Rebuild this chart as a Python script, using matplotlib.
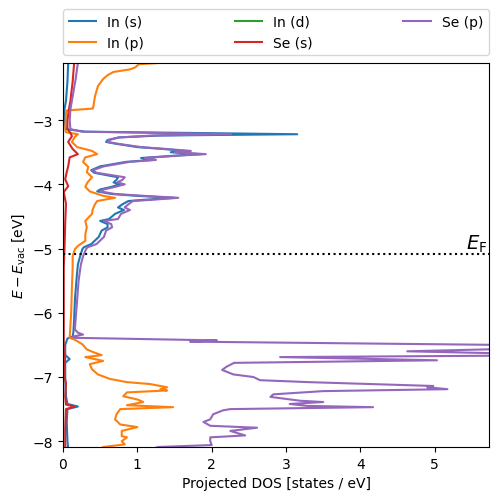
import matplotlib
matplotlib.use("Agg")
import matplotlib.pyplot as plt

# ---------------- data (energy in eV, projected DOS in states/eV) ----------------
in_s_E = [-2.00, -2.11, -2.40, -2.70, -2.83, -3.00, -3.14, -3.18, -3.22, -3.24, -3.27, -3.31, -3.34,
          -3.37, -3.42, -3.45, -3.48, -3.50, -3.53, -3.55, -3.59, -3.62, -3.65, -3.72, -3.78, -3.82,
          -3.86, -3.89, -3.93, -3.97, -4.00, -4.04, -4.08, -4.11, -4.15, -4.18, -4.21, -4.24, -4.26,
          -4.31, -4.36, -4.40, -4.46, -4.54, -4.57, -4.62, -4.67, -4.72, -4.82, -4.93, -4.98, -5.01,
          -5.12, -5.25, -5.50, -5.80, -6.10, -6.30, -6.37, -6.40, -6.50, -6.66, -6.72, -6.78, -7.00,
          -7.30, -7.42, -7.46, -7.50, -7.70, -8.00, -8.12]
in_s_dos = [0.08, 0.07, 0.06, 0.04, 0.02, 0.02, 0.04, 0.30, 3.15, 1.30, 0.75, 0.60, 0.58,
            0.72, 1.00, 1.35, 1.65, 1.45, 1.85, 1.55, 1.05, 1.20, 0.85, 0.50, 0.38, 0.42,
            0.60, 0.74, 0.72, 0.68, 0.76, 0.65, 0.50, 0.46, 0.65, 1.00, 1.50, 1.10, 0.88,
            0.80, 0.74, 0.82, 0.70, 0.62, 0.50, 0.60, 0.60, 0.52, 0.48, 0.38, 0.28, 0.26,
            0.23, 0.20, 0.18, 0.16, 0.15, 0.14, 0.13, 0.06, 0.03, 0.03, 0.09, 0.03, 0.03,
            0.04, 0.06, 0.20, 0.06, 0.05, 0.06, 0.07]

in_p_E = [-2.05, -2.10, -2.13, -2.18, -2.21, -2.25, -2.30, -2.36, -2.47, -2.63, -2.78, -2.82, -2.85,
          -2.90, -3.14, -3.19, -3.22, -3.26, -3.34, -3.42, -3.48, -3.53, -3.58, -3.65, -3.73, -3.81,
          -3.89, -3.97, -4.04, -4.11, -4.18, -4.21, -4.26, -4.31, -4.39, -4.46, -4.57, -4.67, -4.78,
          -4.88, -4.96, -5.01, -5.12, -5.30, -5.60, -6.00, -6.39, -6.42, -6.49, -6.57, -6.61, -6.66,
          -6.69, -6.75, -6.80, -6.88, -6.96, -7.03, -7.08, -7.11, -7.16, -7.19, -7.21, -7.24, -7.30,
          -7.35, -7.39, -7.44, -7.47, -7.50, -7.58, -7.66, -7.74, -7.78, -7.84, -7.92, -7.94, -8.00,
          -8.05, -8.09, -8.12]
in_p_dos = [1.60, 1.43, 1.02, 0.97, 0.90, 0.68, 0.60, 0.54, 0.47, 0.43, 0.41, 0.40, 0.05,
            0.04, 0.03, 0.04, 0.20, 0.16, 0.12, 0.19, 0.39, 0.46, 0.30, 0.27, 0.34, 0.32,
            0.39, 0.33, 0.30, 0.36, 0.54, 0.70, 0.46, 0.43, 0.40, 0.39, 0.30, 0.32, 0.30,
            0.30, 0.20, 0.16, 0.13, 0.13, 0.12, 0.11, 0.09, 0.16, 0.26, 0.32, 0.40, 0.52,
            0.30, 0.54, 0.36, 0.39, 0.47, 0.63, 0.86, 1.17, 1.40, 1.31, 1.40, 0.86, 0.81,
            1.00, 1.08, 0.86, 1.48, 0.77, 0.72, 0.70, 0.77, 1.00, 0.79, 0.79, 0.86, 0.79,
            0.83, 0.54, 0.50]

in_d_E = [-2.00, -4.00, -6.00, -8.12]
in_d_dos = [0.00, 0.00, 0.00, 0.00]

se_s_E = [-2.00, -2.11, -2.40, -2.70, -2.83, -3.00, -3.14, -3.20, -3.25, -3.34, -3.45, -3.53, -3.58,
          -3.72, -3.81, -3.92, -4.03, -4.12, -4.30, -4.60, -5.00, -5.30, -6.00, -6.40, -6.60, -6.72,
          -6.90, -7.00, -7.10, -7.30, -7.43, -7.46, -7.50, -7.80, -8.12]
se_s_dos = [0.16, 0.15, 0.13, 0.10, 0.08, 0.06, 0.06, 0.10, 0.12, 0.07, 0.13, 0.20, 0.09,
            0.07, 0.05, 0.03, 0.07, 0.01, 0.04, 0.03, 0.02, 0.01, 0.01, 0.01, 0.01, 0.03,
            0.01, 0.02, 0.04, 0.03, 0.04, 0.16, 0.04, 0.03, 0.03]

se_p_E = [-2.00, -2.11, -2.36, -2.63, -2.83, -3.00, -3.14, -3.18, -3.22, -3.24, -3.27, -3.31, -3.34,
          -3.37, -3.42, -3.45, -3.48, -3.50, -3.53, -3.55, -3.59, -3.62, -3.65, -3.72, -3.78, -3.82,
          -3.86, -3.89, -3.93, -3.97, -4.00, -4.04, -4.08, -4.11, -4.15, -4.18, -4.21, -4.24, -4.26,
          -4.31, -4.36, -4.40, -4.46, -4.54, -4.57, -4.62, -4.67, -4.72, -4.82, -4.93, -4.98, -5.01,
          -5.12, -5.25, -5.50, -5.80, -6.10, -6.26, -6.31, -6.34, -6.37, -6.39, -6.43, -6.45, -6.52,
          -6.60, -6.66, -6.69, -6.74, -6.78, -6.84, -6.89, -6.96, -7.00, -7.05, -7.08, -7.14, -7.16,
          -7.19, -7.22, -7.27, -7.31, -7.37, -7.39, -7.42, -7.45, -7.47, -7.50, -7.52, -7.58, -7.66,
          -7.70, -7.76, -7.79, -7.84, -7.91, -7.94, -8.00, -8.06, -8.09, -8.12]
se_p_dos = [0.21, 0.20, 0.17, 0.13, 0.10, 0.09, 0.10, 0.25, 2.26, 1.20, 0.75, 0.62, 0.60,
            0.75, 1.05, 1.40, 1.72, 1.50, 1.92, 1.60, 1.10, 1.25, 0.90, 0.55, 0.40, 0.45,
            0.67, 0.83, 0.80, 0.73, 0.83, 0.70, 0.55, 0.50, 0.70, 1.10, 1.55, 1.20, 0.94,
            0.88, 0.83, 0.90, 0.78, 0.74, 0.55, 0.65, 0.66, 0.58, 0.55, 0.45, 0.33, 0.31,
            0.27, 0.24, 0.21, 0.19, 0.17, 0.16, 0.20, 0.27, 0.13, 0.15, 2.07, 1.71, 7.50,
            4.63, 7.00, 2.92, 5.03, 2.30, 2.20, 2.14, 2.29, 2.56, 2.65, 3.30, 4.98, 4.90,
            5.17, 3.50, 2.83, 2.79, 3.19, 3.50, 3.05, 3.28, 4.17, 2.25, 2.15, 2.02, 1.98,
            1.89, 1.98, 2.61, 2.25, 2.45, 1.98, 1.98, 2.00, 1.28, 1.20]

series_labels = ["In (s)", "In (p)", "In (d)", "Se (s)", "Se (p)"]
fermi_level = -5.09
x_limits = (0, 5.73)
y_limits = (-8.09, -2.11)

# ---------------- plot ----------------
fig = plt.figure(figsize=(4.98, 5.02), dpi=100)
ax = fig.add_axes([0.1265, 0.1076, 0.8555, 0.765])

series = [(in_s_E, in_s_dos), (in_p_E, in_p_dos), (in_d_E, in_d_dos),
          (se_s_E, se_s_dos), (se_p_E, se_p_dos)]
colors = ["#1f77b4", "#ff7f0e", "#2ca02c", "#d62728", "#9467bd"]
for (E, d), lab, c in zip(series, series_labels, colors):
    ax.plot(d, E, color=c, lw=1.5, label=lab)

ax.axhline(fermi_level, color="k", ls=":", lw=1.5)
ax.text(x_limits[1] - 0.02, fermi_level + 0.01, r"$E_\mathrm{F}$", ha="right", va="bottom",
        fontsize=14)

ax.set_xlim(*x_limits)
ax.set_ylim(*y_limits)
ax.set_xlabel("Projected DOS [states / eV]")
ax.set_ylabel(r"$E - E_\mathrm{vac}$ [eV]")

ax.legend(loc="lower left", bbox_to_anchor=(0, 1.02, 1, 0.102), ncol=3, mode="expand",
          borderaxespad=0.0)

fig.savefig("out.png", dpi=100)
